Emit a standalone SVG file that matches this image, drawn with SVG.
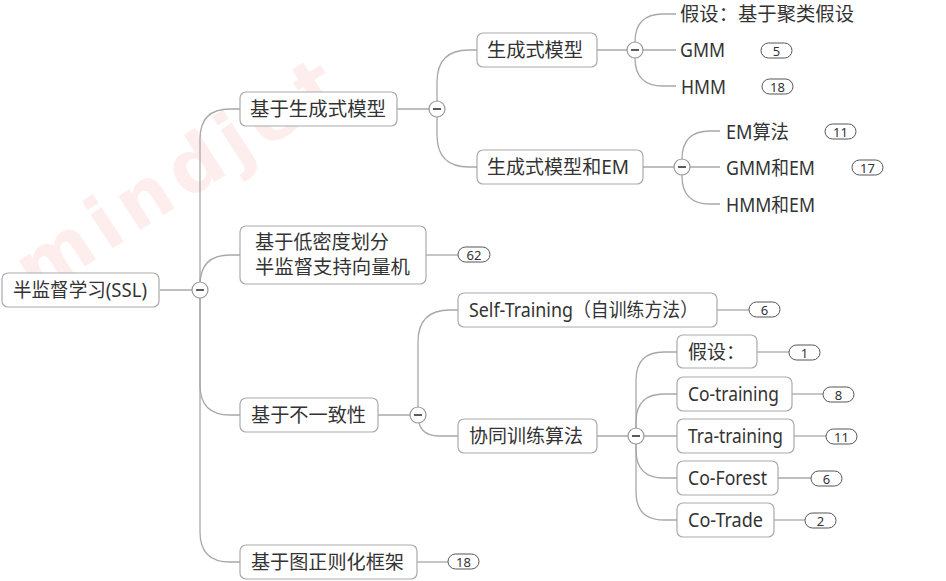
<svg xmlns="http://www.w3.org/2000/svg" width="946" height="581" viewBox="0 0 946 581">
<style>
  .bg{fill:#ffffff}
  .wm{font-family:"DejaVu Sans",sans-serif;font-weight:bold;font-size:74px;letter-spacing:8px;fill:#fdeded}
  .box{fill:#ffffff;stroke:#aaaaaa;stroke-width:1.2}
  .t{font-family:"Noto Sans","Noto Sans CJK SC",sans-serif;font-size:19px;fill:#333333;dominant-baseline:central}
  .ln{fill:none;stroke:#a8a8a8;stroke-width:1.3}
  .badge{fill:#ffffff;stroke:#555555;stroke-width:1}
  .bt{font-family:"Noto Sans",sans-serif;font-size:13px;fill:#333333;text-anchor:middle;dominant-baseline:central}
  .tog{fill:#ffffff;stroke:#999999;stroke-width:1.2}
  .minus{stroke:#333333;stroke-width:1.6}
</style>
<rect class="bg" x="0" y="0" width="946" height="581"/>
<text class="wm" x="36" y="298" transform="rotate(-33 36 298)">mindjet</text>

<g id="connectors">
  <path class="ln" d="M160,290 H200"/>
  <path class="ln" d="M200,290 V139 Q200,109 230,109 H240"/>
  <path class="ln" d="M200,290 V285 Q200,255 230,255 H240"/>
  <path class="ln" d="M200,290 V385 Q200,415 230,415 H240"/>
  <path class="ln" d="M200,290 V532 Q200,562 230,562 H240"/>

  <path class="ln" d="M397,109 H437"/>
  <path class="ln" d="M437,109 V82 Q437,50 469,50 H477"/>
  <path class="ln" d="M437,109 V135 Q437,167 469,167 H477"/>

  <path class="ln" d="M597,50 H635"/>
  <path class="ln" d="M635,50 V42 Q635,14 663,14 H676"/>
  <path class="ln" d="M635,50 H676"/>
  <path class="ln" d="M635,50 V58 Q635,86 663,86 H676"/>

  <path class="ln" d="M643,167 H682"/>
  <path class="ln" d="M682,167 V159 Q682,131 710,131 H720"/>
  <path class="ln" d="M682,167 H720"/>
  <path class="ln" d="M682,167 V176 Q682,204 710,204 H720"/>

  <path class="ln" d="M378,415 H418"/>
  <path class="ln" d="M418,415 V342 Q418,310 450,310 H458"/>
  <path class="ln" d="M418,415 Q418,436 439,436 H458"/>

  <path class="ln" d="M597,436 H636"/>
  <path class="ln" d="M636,436 V380 Q636,352 664,352 H677"/>
  <path class="ln" d="M636,436 V422 Q636,394 664,394 H677"/>
  <path class="ln" d="M636,436 H677"/>
  <path class="ln" d="M636,436 V450 Q636,478 664,478 H677"/>
  <path class="ln" d="M636,436 V492 Q636,520 664,520 H677"/>

  <path class="ln" d="M426,255 H458"/>
  <path class="ln" d="M417,562 H448"/>
  <path class="ln" d="M717,310 H749"/>
  <path class="ln" d="M757,352 H789"/>
  <path class="ln" d="M792,394 H823"/>
  <path class="ln" d="M794,436 H826"/>
  <path class="ln" d="M778,478 H811"/>
  <path class="ln" d="M774,520 H805"/>
</g>

<g id="toggles">
  <g id="tog-root"><circle class="tog" cx="200" cy="290" r="8"/><line class="minus" x1="196" y1="290" x2="204" y2="290"/></g>
  <g id="tog-gen"><circle class="tog" cx="437" cy="109" r="8"/><line class="minus" x1="433" y1="109" x2="441" y2="109"/></g>
  <g id="tog-genmodel"><circle class="tog" cx="635" cy="50" r="8"/><line class="minus" x1="631" y1="50" x2="639" y2="50"/></g>
  <g id="tog-genem"><circle class="tog" cx="682" cy="167" r="8"/><line class="minus" x1="678" y1="167" x2="686" y2="167"/></g>
  <g id="tog-incons"><circle class="tog" cx="418" cy="415" r="8"/><line class="minus" x1="414" y1="415" x2="422" y2="415"/></g>
  <g id="tog-cotrain"><circle class="tog" cx="636" cy="436" r="8"/><line class="minus" x1="632" y1="436" x2="640" y2="436"/></g>
</g>

<g id="n-root"><rect class="box" x="2" y="273" width="157" height="34" rx="6"/><text class="t" x="13" y="290" textLength="134" lengthAdjust="spacingAndGlyphs">半监督学习(SSL)</text></g>
<g id="n-gen"><rect class="box" x="240" y="92" width="157" height="34" rx="6"/><text class="t" x="250" y="109" textLength="136" lengthAdjust="spacingAndGlyphs">基于生成式模型</text></g>
<g id="n-lowdens"><rect class="box" x="240" y="226" width="186" height="58" rx="6"/><text class="t" x="255" y="242" textLength="134" lengthAdjust="spacingAndGlyphs">基于低密度划分</text><text class="t" x="255" y="267" textLength="155" lengthAdjust="spacingAndGlyphs">半监督支持向量机</text></g>
<g id="n-incons"><rect class="box" x="240" y="398" width="138" height="34" rx="6"/><text class="t" x="251" y="415" textLength="115" lengthAdjust="spacingAndGlyphs">基于不一致性</text></g>
<g id="n-graph"><rect class="box" x="240" y="545" width="177" height="34" rx="6"/><text class="t" x="251" y="562" textLength="153" lengthAdjust="spacingAndGlyphs">基于图正则化框架</text></g>

<g id="n-genmodel"><rect class="box" x="477" y="33" width="120" height="34" rx="6"/><text class="t" x="487" y="50" textLength="96" lengthAdjust="spacingAndGlyphs">生成式模型</text></g>
<g id="n-genem"><rect class="box" x="477" y="150" width="166" height="34" rx="6"/><text class="t" x="487" y="167" textLength="142" lengthAdjust="spacingAndGlyphs">生成式模型和EM</text></g>

<g id="n-assume1"><text class="t" x="680" y="14" textLength="174" lengthAdjust="spacingAndGlyphs">假设：基于聚类假设</text></g>
<g id="n-gmm"><text class="t" x="680" y="50" textLength="45" lengthAdjust="spacingAndGlyphs">GMM</text><rect class="badge" x="761" y="43" width="31" height="15" rx="7.5"/><text class="bt" x="776.5" y="50.5">5</text></g>
<g id="n-hmm"><text class="t" x="681" y="87" textLength="45" lengthAdjust="spacingAndGlyphs">HMM</text><rect class="badge" x="762" y="79" width="31" height="15" rx="7.5"/><text class="bt" x="777.5" y="86.5">18</text></g>

<g id="n-em"><text class="t" x="726" y="132" textLength="63" lengthAdjust="spacingAndGlyphs">EM算法</text><rect class="badge" x="825" y="124" width="31" height="15" rx="7.5"/><text class="bt" x="840.5" y="131.5">11</text></g>
<g id="n-gmmem"><text class="t" x="726" y="168" textLength="89" lengthAdjust="spacingAndGlyphs">GMM和EM</text><rect class="badge" x="852" y="160" width="31" height="15" rx="7.5"/><text class="bt" x="867.5" y="167.5">17</text></g>
<g id="n-hmmem"><text class="t" x="726" y="205" textLength="89" lengthAdjust="spacingAndGlyphs">HMM和EM</text></g>

<g id="b-lowdens"><rect class="badge" x="458" y="247" width="32" height="15" rx="7.5"/><text class="bt" x="474" y="254.5">62</text></g>
<g id="b-graph"><rect class="badge" x="448" y="554" width="31" height="15" rx="7.5"/><text class="bt" x="463.5" y="561.5">18</text></g>

<g id="n-self"><rect class="box" x="458" y="293" width="259" height="34" rx="6"/><text class="t" x="469" y="310" textLength="229" lengthAdjust="spacingAndGlyphs">Self-Training（自训练方法）</text><rect class="badge" x="749" y="302" width="31" height="15" rx="7.5"/><text class="bt" x="764.5" y="309.5">6</text></g>
<g id="n-cotrain"><rect class="box" x="458" y="419" width="139" height="34" rx="6"/><text class="t" x="469" y="436" textLength="114" lengthAdjust="spacingAndGlyphs">协同训练算法</text></g>

<g id="n-assume2"><rect class="box" x="677" y="335" width="80" height="33" rx="6"/><text class="t" x="688" y="352" textLength="57" lengthAdjust="spacingAndGlyphs">假设：</text><rect class="badge" x="789" y="345" width="31" height="15" rx="7.5"/><text class="bt" x="804.5" y="352.5">1</text></g>
<g id="n-cotraining"><rect class="box" x="677" y="377" width="115" height="34" rx="6"/><text class="t" x="688" y="394" textLength="91" lengthAdjust="spacingAndGlyphs">Co-training</text><rect class="badge" x="823" y="387" width="31" height="15" rx="7.5"/><text class="bt" x="838.5" y="394.5">8</text></g>
<g id="n-tratraining"><rect class="box" x="677" y="419" width="117" height="34" rx="6"/><text class="t" x="688" y="436" textLength="95" lengthAdjust="spacingAndGlyphs">Tra-training</text><rect class="badge" x="826" y="429" width="31" height="15" rx="7.5"/><text class="bt" x="841.5" y="436.5">11</text></g>
<g id="n-coforest"><rect class="box" x="677" y="461" width="101" height="34" rx="6"/><text class="t" x="688" y="478" textLength="79" lengthAdjust="spacingAndGlyphs">Co-Forest</text><rect class="badge" x="811" y="471" width="31" height="15" rx="7.5"/><text class="bt" x="826.5" y="478.5">6</text></g>
<g id="n-cotrade"><rect class="box" x="677" y="503" width="97" height="34" rx="6"/><text class="t" x="688" y="520" textLength="75" lengthAdjust="spacingAndGlyphs">Co-Trade</text><rect class="badge" x="805" y="513" width="31" height="15" rx="7.5"/><text class="bt" x="820.5" y="520.5">2</text></g>
</svg>
